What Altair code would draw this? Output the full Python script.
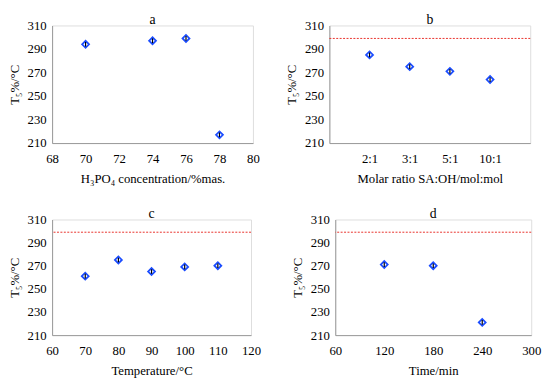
import altair as alt
import pandas as pd

# Panel a
a_x = [70, 74, 76, 78]
a_y = [294, 297, 299, 217]
# Panel b
b_cat = ["2:1", "3:1", "5:1", "10:1"]
b_pos = [1, 2, 3, 4]
b_y = [285, 275, 271, 264]
# Panel c
c_x = [70, 80, 90, 100, 110]
c_y = [261, 275, 265, 269, 270]
# Panel d
d_x = [120, 180, 240]
d_y = [271, 270, 221]
err = 2
ref_line = 299

FONT = "Liberation Serif"
YTITLE = "T₅%/°C"
W, H = 205, 120


def panel(xs, ys, title, xtitle, xdomain, xvalues, ref=True, labelexpr=None, w=W, h=H):
    df = pd.DataFrame({"x": xs, "y": ys})
    df["lo"] = df["y"] - err
    df["hi"] = df["y"] + err
    axx = dict(title=xtitle, values=xvalues, grid=False, ticks=False, tickSize=0,
               domainColor="#999999", labelFontSize=13, titleFontSize=13,
               labelFont=FONT, titleFont=FONT, labelColor="black",
               titleColor="black", titleFontWeight="normal", labelPadding=10,
               labelOverlap=False, labelFlush=False, titlePadding=7)
    if labelexpr:
        axx["labelExpr"] = labelexpr
    xaxis = alt.Axis(**axx)
    xscale = alt.Scale(domain=xdomain, nice=False, zero=False)
    yaxis = alt.Axis(title=YTITLE, values=[210, 230, 250, 270, 290, 310],
                     grid=False, ticks=False, tickSize=0, domainColor="#999999",
                     labelFontSize=13, titleFontSize=13, labelFont=FONT,
                     titleFont=FONT, labelColor="black", titleColor="black",
                     titleFontWeight="normal", labelPadding=6,
                     labelOverlap=False, labelFlush=False, titlePadding=6)
    yscale = alt.Scale(domain=[210, 310], nice=False, zero=False)
    base = alt.Chart(df)
    pts = base.mark_point(shape="diamond", filled=False, color="#1a4cff",
                          size=50, strokeWidth=1.8, opacity=1).encode(
        x=alt.X("x:Q", scale=xscale, axis=xaxis),
        y=alt.Y("y:Q", scale=yscale, axis=yaxis))
    bars = base.mark_rule(color="black", strokeWidth=1.2).encode(
        x=alt.X("x:Q", scale=xscale, axis=xaxis),
        y=alt.Y("lo:Q", scale=yscale, axis=yaxis), y2="hi:Q")
    layers = [pts, bars]
    if ref:
        rdf = pd.DataFrame({"r": [ref_line]})
        rline = alt.Chart(rdf).mark_rule(color="#e8302a", strokeDash=[2, 1.5],
                                         strokeWidth=1).encode(
            y=alt.Y("r:Q", scale=yscale, axis=yaxis))
        layers = [rline] + layers
    return alt.layer(*layers).properties(
        width=w, height=h,
        title=alt.TitleParams(title, font=FONT, fontSize=14, fontWeight="normal",
                              color="black", offset=-11, dy=-4))


pa = panel(a_x, a_y, "a", "H₃PO₄ concentration/%mas.", [68, 80],
           [68, 70, 72, 74, 76, 78, 80], ref=False)
pb = panel(b_pos, b_y, "b", "Molar ratio SA:OH/mol:mol", [0, 5], b_pos,
           labelexpr="datum.value==1?'2:1':datum.value==2?'3:1':datum.value==3?'5:1':'10:1'")
pc = panel(c_x, c_y, "c", "Temperature/°C", [60, 120],
           [60, 70, 80, 90, 100, 110, 120], w=203, h=118)
pd_ = panel(d_x, d_y, "d", "Time/min", [60, 300], [60, 120, 180, 240, 300], w=200, h=118)

chart = alt.vconcat(
    alt.hconcat(pa, pb, spacing=26),
    alt.hconcat(pc, pd_, spacing=30),
    spacing=20,
).configure_view(stroke="#999999").configure(padding=0)

chart.save("out.html", embed_options={"renderer": "svg", "actions": False})
